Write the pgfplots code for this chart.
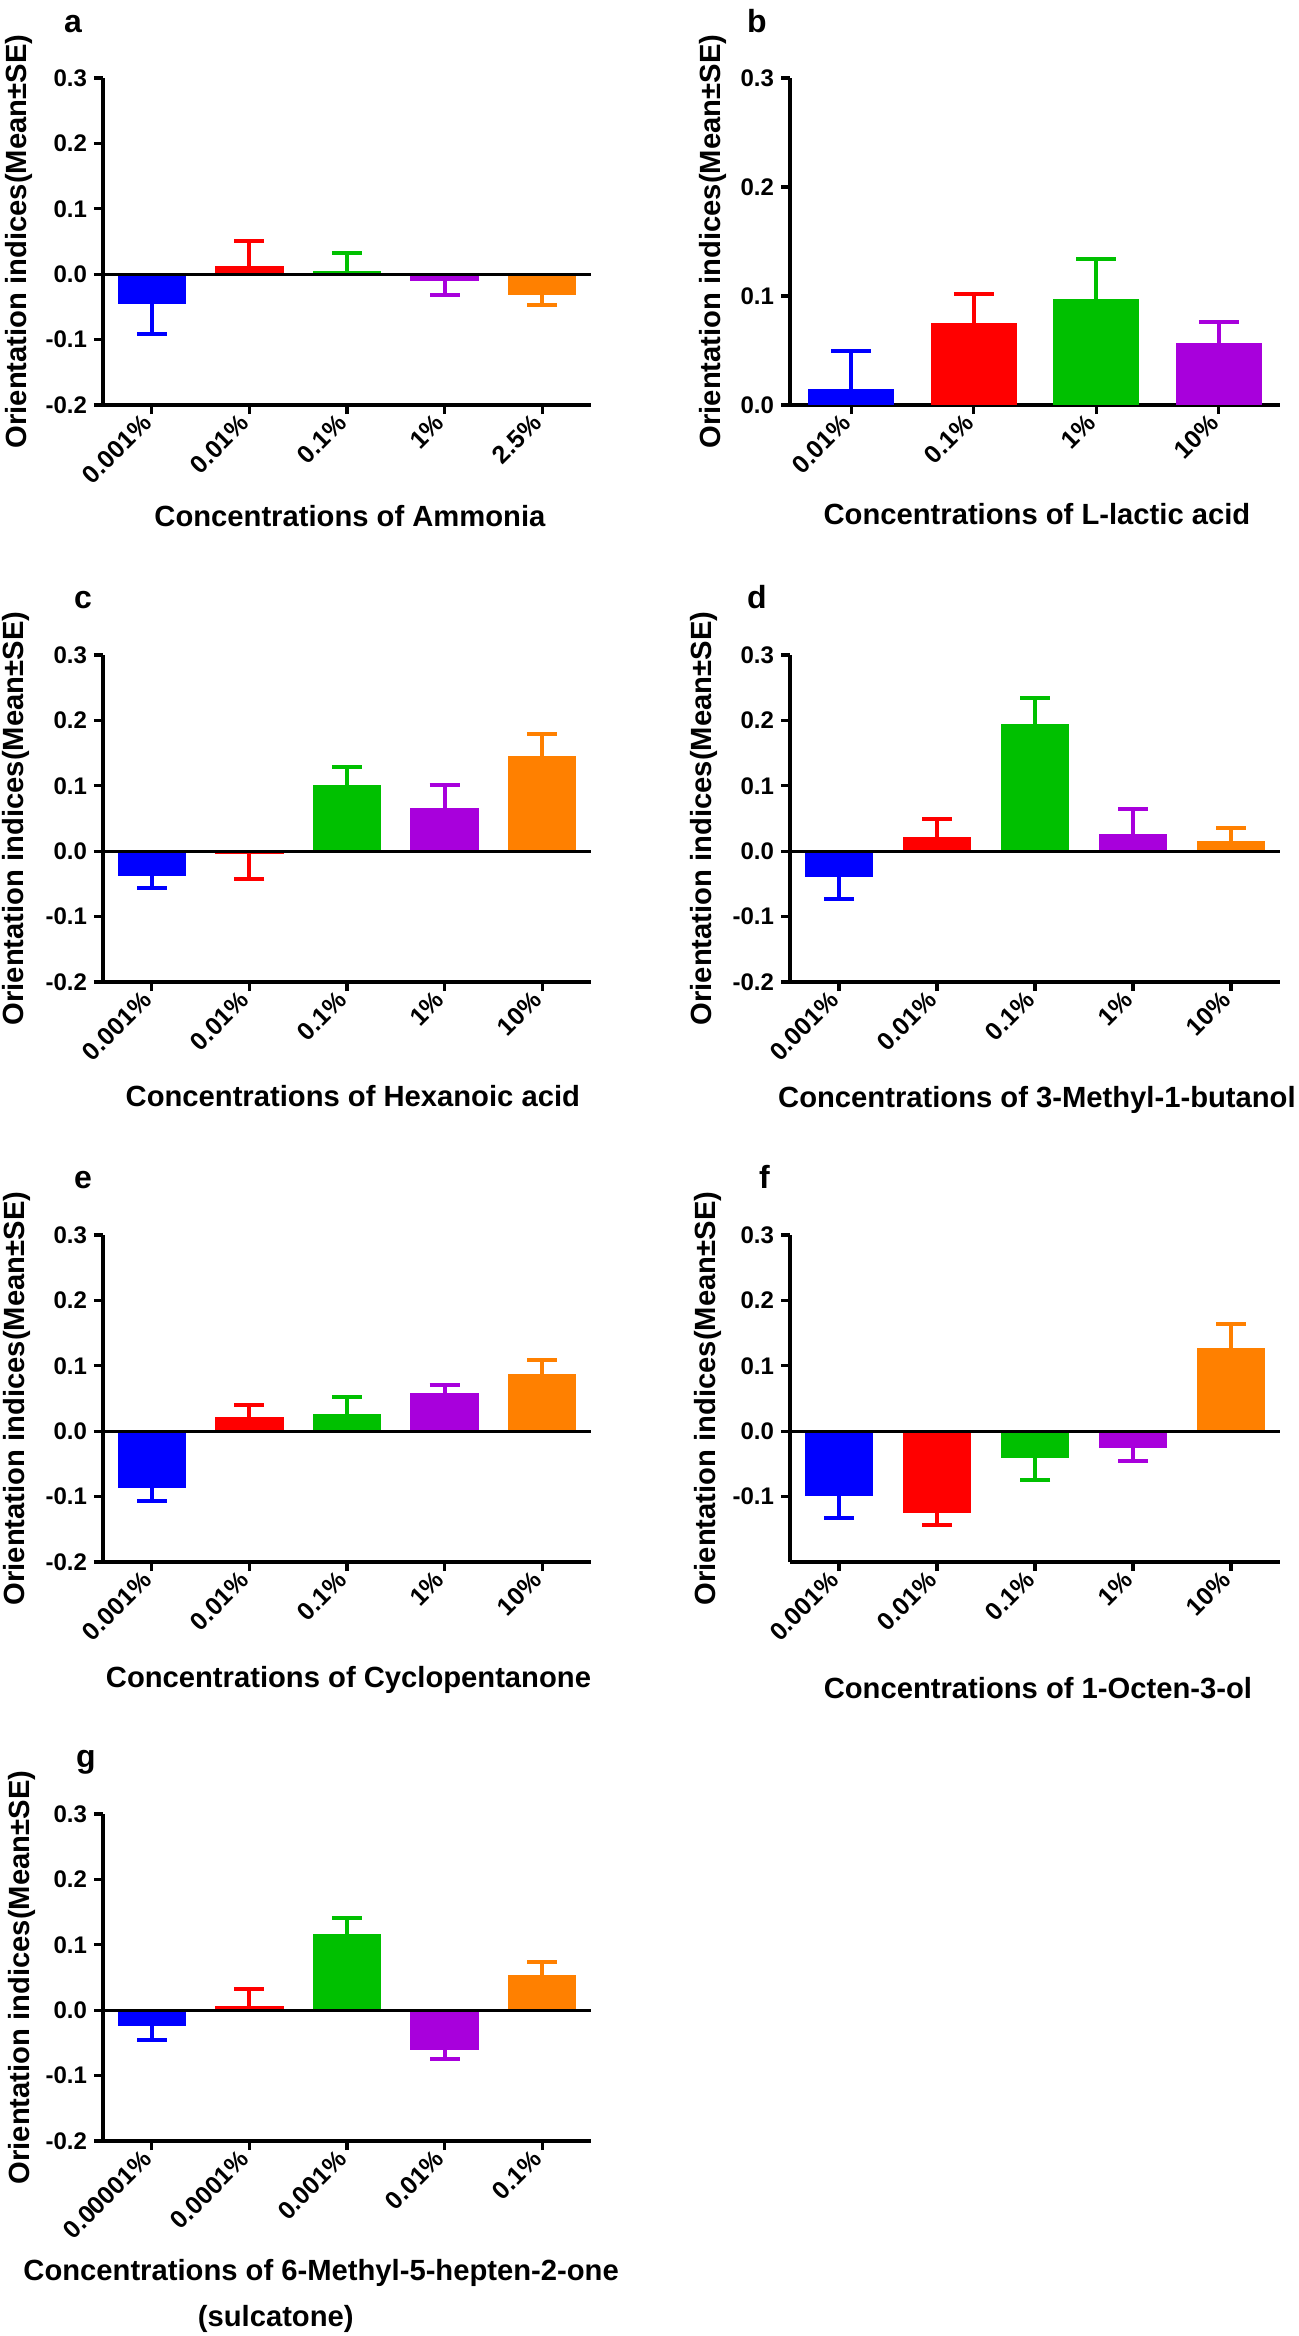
\documentclass[border=0pt]{standalone}
\usepackage{pgfplots}
\pgfplotsset{compat=1.18}
\usepackage{fontspec}
\setmainfont{Liberation Sans}
\definecolor{cblue}{HTML}{0000FF}
\definecolor{cred}{HTML}{FF0000}
\definecolor{cgreen}{HTML}{00C000}
\definecolor{cpurple}{HTML}{A800DC}
\definecolor{corange}{HTML}{FF8000}
\pgfplotsset{
  panel/.style={
    scale only axis, width=244pt, height=163.5pt,
    anchor=south west, clip=false,
    axis lines*=left, axis line style={line width=1.6pt, -},
    tick align=outside, major tick length=4.5pt,
    tick style={black, line width=1.6pt},
    /pgf/number format/assume math mode=true,
    xmin=-0.5, xmax=4.5, ymin=-0.2, ymax=0.3,
    xtick={0,...,4},
    ytick={-0.2,-0.1,0,0.1,0.2,0.3},
    yticklabels={-0.2,-0.1,0.0,0.1,0.2,0.3},
    yticklabel style={font=\bfseries\fontsize{12}{14}\selectfont},
    xticklabel style={font=\bfseries\fontsize{12.5}{14}\selectfont, rotate=45, anchor=east},
    label style={font=\bfseries\fontsize{14.6}{17}\selectfont},
    ylabel={Orientation indices(Mean±SE)},
  },
  rightpanel/.style={panel, width=245pt},
  ylab/.style={ylabel style={at={(axis description cs:#1,0.5)}, anchor=center}},
  xlab/.style 2 args={xlabel style={at={(axis description cs:#1,#2)}, anchor=center}},
  mybar/.style n args={3}{ybar, bar width=0.7, bar shift=0pt, fill=#1, draw=none,
    error bars/.cd, y dir=#2, y explicit,
    error bar style={line width=2pt, color=#1},
    error mark options={rotate=90, line width=2pt, mark size=#3, color=#1}},
  zline/.style={black, line width=1.6pt, mark=none},
}
\newcommand{\plabel}[1]{{\bfseries\fontsize{16}{19}\selectfont #1}}
\begin{document}
\begin{tikzpicture}
\path[use as bounding box] (0,0) rectangle (649.5pt,-1168pt);

% ---------- a ----------
\begin{axis}[panel, at={(51.5pt,-202.5pt)}, ylab=-0.172, xlab={0.506}{-0.34},
  xticklabels={0.001\%,0.01\%,0.1\%,1\%,2.5\%},
  xlabel={Concentrations of Ammonia}]
\addplot[mybar={cblue}{minus}{7.5pt}] coordinates {(0,-0.046) +- (0,0.046)};
\addplot[mybar={cred}{plus}{7.5pt}] coordinates {(1,0.012) +- (0,0.039)};
\addplot[mybar={cgreen}{plus}{7.5pt}] coordinates {(2,0.005) +- (0,0.028)};
\addplot[mybar={cpurple}{minus}{7.5pt}] coordinates {(3,-0.011) +- (0,0.021)};
\addplot[mybar={corange}{minus}{7.5pt}] coordinates {(4,-0.032) +- (0,0.015)};
\addplot[zline] coordinates {(-0.5,0) (4.5,0)};
\end{axis}
\node[anchor=base west] at (28.5pt,-16pt) {\plabel{a}};

% ---------- b ----------
\begin{axis}[rightpanel, at={(395pt,-202.5pt)}, ylab=-0.157, xlab={0.504}{-0.333},
  xmin=-0.5, xmax=3.5, ymin=0, ymax=0.3, xtick={0,...,3},
  ytick={0,0.1,0.2,0.3}, yticklabels={0.0,0.1,0.2,0.3},
  xticklabels={0.01\%,0.1\%,1\%,10\%},
  xlabel={Concentrations of L-lactic acid}]
\addplot[mybar={cblue}{plus}{10pt}] coordinates {(0,0.015) +- (0,0.035)};
\addplot[mybar={cred}{plus}{10pt}] coordinates {(1,0.075) +- (0,0.027)};
\addplot[mybar={cgreen}{plus}{10pt}] coordinates {(2,0.097) +- (0,0.037)};
\addplot[mybar={cpurple}{plus}{10pt}] coordinates {(3,0.057) +- (0,0.019)};
\end{axis}
\node[anchor=base west] at (370pt,-16pt) {\plabel{b}};

% ---------- c ----------
\begin{axis}[panel, at={(51.5pt,-491pt)}, ylab=-0.178, xlab={0.512}{-0.349},
  xticklabels={0.001\%,0.01\%,0.1\%,1\%,10\%},
  xlabel={Concentrations of Hexanoic acid}]
\addplot[mybar={cblue}{minus}{7.5pt}] coordinates {(0,-0.038) +- (0,0.019)};
\addplot[mybar={cred}{minus}{7.5pt}] coordinates {(1,-0.005) +- (0,0.038)};
\addplot[mybar={cgreen}{plus}{7.5pt}] coordinates {(2,0.102) +- (0,0.027)};
\addplot[mybar={cpurple}{plus}{7.5pt}] coordinates {(3,0.066) +- (0,0.035)};
\addplot[mybar={corange}{plus}{7.5pt}] coordinates {(4,0.146) +- (0,0.033)};
\addplot[zline] coordinates {(-0.5,0) (4.5,0)};
\end{axis}
\node[anchor=base west] at (33.5pt,-304pt) {\plabel{c}};

% ---------- d ----------
\begin{axis}[rightpanel, at={(395pt,-491pt)}, ylab=-0.176, xlab={0.504}{-0.361},
  xticklabels={0.001\%,0.01\%,0.1\%,1\%,10\%},
  xlabel={Concentrations of 3-Methyl-1-butanol}]
\addplot[mybar={cblue}{minus}{7.5pt}] coordinates {(0,-0.039) +- (0,0.034)};
\addplot[mybar={cred}{plus}{7.5pt}] coordinates {(1,0.022) +- (0,0.027)};
\addplot[mybar={cgreen}{plus}{7.5pt}] coordinates {(2,0.194) +- (0,0.041)};
\addplot[mybar={cpurple}{plus}{7.5pt}] coordinates {(3,0.027) +- (0,0.037)};
\addplot[mybar={corange}{plus}{7.5pt}] coordinates {(4,0.016) +- (0,0.020)};
\addplot[zline] coordinates {(-0.5,0) (4.5,0)};
\end{axis}
\node[anchor=base west] at (370pt,-304pt) {\plabel{d}};

% ---------- e ----------
\begin{axis}[panel, at={(51.5pt,-781pt)}, ylab=-0.176, xlab={0.503}{-0.361},
  xticklabels={0.001\%,0.01\%,0.1\%,1\%,10\%},
  xlabel={Concentrations of Cyclopentanone}]
\addplot[mybar={cblue}{minus}{7.5pt}] coordinates {(0,-0.087) +- (0,0.019)};
\addplot[mybar={cred}{plus}{7.5pt}] coordinates {(1,0.022) +- (0,0.018)};
\addplot[mybar={cgreen}{plus}{7.5pt}] coordinates {(2,0.026) +- (0,0.026)};
\addplot[mybar={cpurple}{plus}{7.5pt}] coordinates {(3,0.058) +- (0,0.012)};
\addplot[mybar={corange}{plus}{7.5pt}] coordinates {(4,0.088) +- (0,0.021)};
\addplot[zline] coordinates {(-0.5,0) (4.5,0)};
\end{axis}
\node[anchor=base west] at (33.5pt,-594pt) {\plabel{e}};

% ---------- f ----------
\begin{axis}[rightpanel, at={(395pt,-781pt)}, ylab=-0.167, xlab={0.506}{-0.385},
  ytick={-0.1,0,0.1,0.2,0.3}, yticklabels={-0.1,0.0,0.1,0.2,0.3},
  xticklabels={0.001\%,0.01\%,0.1\%,1\%,10\%},
  xlabel={Concentrations of 1-Octen-3-ol}]
\addplot[mybar={cblue}{minus}{7.5pt}] coordinates {(0,-0.099) +- (0,0.033)};
\addplot[mybar={cred}{minus}{7.5pt}] coordinates {(1,-0.125) +- (0,0.018)};
\addplot[mybar={cgreen}{minus}{7.5pt}] coordinates {(2,-0.041) +- (0,0.034)};
\addplot[mybar={cpurple}{minus}{7.5pt}] coordinates {(3,-0.025) +- (0,0.020)};
\addplot[mybar={corange}{plus}{7.5pt}] coordinates {(4,0.128) +- (0,0.036)};
\addplot[zline] coordinates {(-0.5,0) (4.5,0)};
\end{axis}
\node[anchor=base west] at (376pt,-594pt) {\plabel{f}};

% ---------- g ----------
\begin{axis}[panel, at={(51.5pt,-1070.5pt)}, ylab=-0.166, xlab={0.447}{-0.404},
  xticklabels={0.00001\%,0.0001\%,0.001\%,0.01\%,0.1\%},
  xlabel={Concentrations of 6-Methyl-5-hepten-2-one}]
\addplot[mybar={cblue}{minus}{7.5pt}] coordinates {(0,-0.024) +- (0,0.022)};
\addplot[mybar={cred}{plus}{7.5pt}] coordinates {(1,0.006) +- (0,0.027)};
\addplot[mybar={cgreen}{plus}{7.5pt}] coordinates {(2,0.117) +- (0,0.024)};
\addplot[mybar={cpurple}{minus}{7.5pt}] coordinates {(3,-0.061) +- (0,0.014)};
\addplot[mybar={corange}{plus}{7.5pt}] coordinates {(4,0.054) +- (0,0.020)};
\addplot[zline] coordinates {(-0.5,0) (4.5,0)};
\node[font=\bfseries\fontsize{14.6}{17}\selectfont] at (axis description cs:0.354,-0.544) {(sulcatone)};
\end{axis}
\node[anchor=base west] at (34.5pt,-883.5pt) {\plabel{g}};
\end{tikzpicture}
\end{document}
